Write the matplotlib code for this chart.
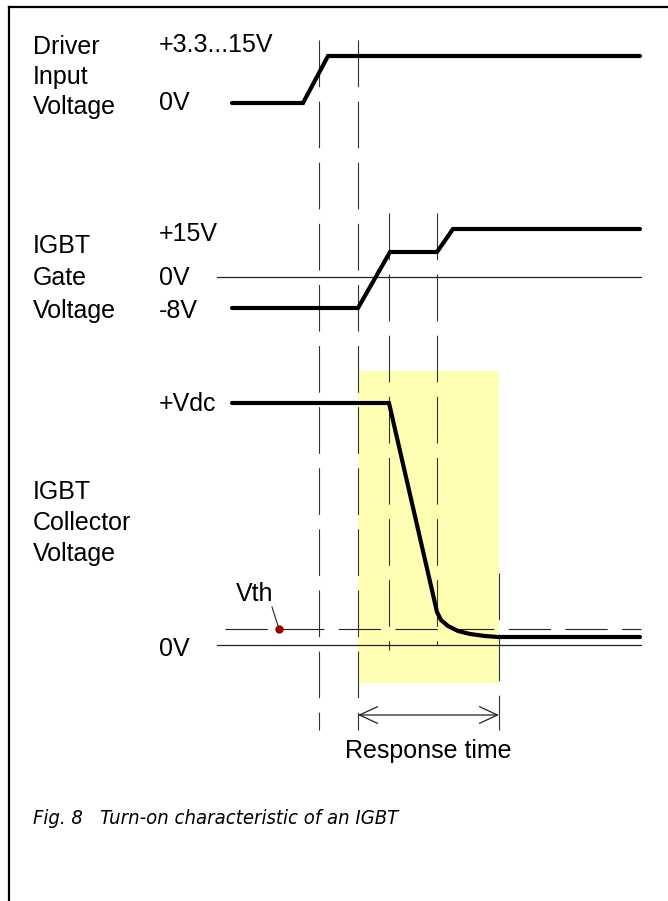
"""IGBT turn-on timing diagram (Fig. 8)."""

import matplotlib

matplotlib.use("Agg")
import matplotlib.pyplot as plt

# canvas units follow the picture: x to the right, y downwards
W, H = 668, 901

# waveforms: time positions and levels
drv_t = [232, 303, 328, 640]
drv_v = [103, 103, 56, 56]

gate_t = [232, 358, 390, 437, 453, 640]
gate_v = [308, 308, 252, 252, 229, 229]

coll_t = [232, 389, 437, 441, 448, 458, 470, 485, 498, 640]
coll_v = [403, 403, 612, 620, 626, 631, 634, 636, 637, 637]

# reference levels
gate_zero = 277
coll_zero = 645
vth_level = 629
vth_dot = (279, 629)

# event markers: (x, top, bottom)
markers = [(319, 40, 730), (358, 40, 730), (389, 213, 650), (437, 213, 645), (499, 573, 730)]

# response window
resp_start, resp_end = 358, 499
resp_top, resp_bottom = 371, 683
arrow_y = 715

FONT = 18
INK = "#222222"
plt.rcParams["font.family"] = ["Liberation Sans", "DejaVu Sans"]

fig = plt.figure(figsize=(W / 100, H / 100), dpi=100)
ax = fig.add_axes([0, 0, 1, 1])
ax.set_xlim(0, W)
ax.set_ylim(H, 0)
ax.axis("off")

# frame (left and top edges visible)
ax.plot([8.5, 8.5], [H, 7], color="black", lw=1.6, solid_capstyle="projecting")
ax.plot([8.5, W], [7, 7], color="black", lw=1.6)

# response window
ax.fill_between([resp_start, resp_end], resp_top, resp_bottom, color="#ffffb3", lw=0, zorder=0)

# event markers
for x, y0, y1 in markers:
    ax.plot([x, x], [y0, y1], color="#333333", lw=0.8, dashes=(42, 13), zorder=1)

# zero lines
ax.plot([217, 641], [gate_zero, gate_zero], color=INK, lw=0.9, zorder=1)
ax.plot([217, 641], [coll_zero, coll_zero], color=INK, lw=0.9, zorder=1)
ax.plot([225, 641], [vth_level, vth_level], color=INK, lw=0.8, dashes=(38, 13), zorder=1)

# waveforms
for t, v in ((drv_t, drv_v), (gate_t, gate_v), (coll_t, coll_v)):
    ax.plot(t, v, color="black", lw=3.0, solid_joinstyle="miter", solid_capstyle="round", zorder=3)

# threshold marker
ax.plot([272, vth_dot[0]], [607, vth_dot[1]], color=INK, lw=0.8, zorder=2)
ax.plot(*vth_dot, "o", color="#990000", ms=5, zorder=4)
ax.text(255, 594, "Vth", fontsize=FONT, ha="center", va="center")

# response time arrow
ax.annotate("", xy=(resp_start, arrow_y), xytext=(resp_end, arrow_y),
            arrowprops=dict(arrowstyle="<->,head_length=1.3,head_width=0.6", color=INK, lw=0.9,
                            mutation_scale=10, shrinkA=0, shrinkB=0))
ax.text((resp_start + resp_end) / 2, 751, "Response time", fontsize=FONT, ha="center", va="center")

# axis labels
labels = [
    (33, 47, "Driver"), (33, 77, "Input"), (33, 107, "Voltage"),
    (33, 246, "IGBT"), (33, 278, "Gate"), (33, 311, "Voltage"),
    (33, 492, "IGBT"), (33, 523, "Collector"), (33, 554, "Voltage"),
    (159, 45, "+3.3...15V"), (159, 103, "0V"),
    (159, 234, "+15V"), (159, 278, "0V"), (159, 311, "-8V"),
    (159, 404, "+Vdc"), (159, 649, "0V"),
]
for x, y, s in labels:
    ax.text(x, y, s, fontsize=FONT, ha="left", va="center")

ax.text(33, 819, "Fig. 8   Turn-on characteristic of an IGBT", fontsize=14.5,
        family="DejaVu Sans", stretch="condensed",
        style="italic", ha="left", va="center")

fig.savefig("out.png", dpi=100)
plt.close(fig)
